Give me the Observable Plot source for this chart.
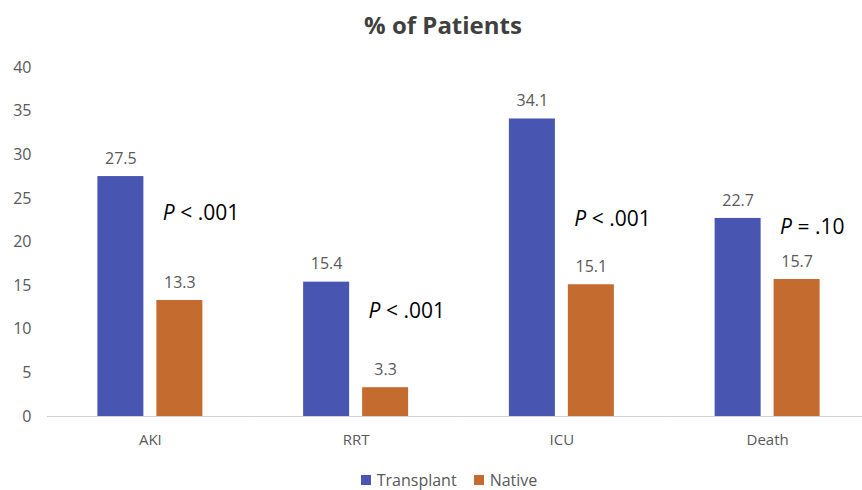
<!DOCTYPE html>
<html>
<head>
<meta charset="utf-8">
<script src="https://cdn.jsdelivr.net/npm/d3@7"></script>
<script src="https://cdn.jsdelivr.net/npm/@observablehq/plot@0.6"></script>
<style>
  html, body { margin: 0; padding: 0; background: #fff; }
  #chart { width: 862px; font-family: "Open Sans", sans-serif; }
  .title { height: 50px; line-height: 50px; text-align: center; font-weight: bold; font-size: 24px; color: #404040; padding-left: 24px; box-sizing: border-box; }
  .legend { height: 36px; display: flex; justify-content: center; align-items: center; gap: 17px; font-size: 16px; line-height: 19px; color: #595959; padding-left: 36px; padding-top: 16px; box-sizing: border-box; }
  .legend .item { display: flex; align-items: center; gap: 6px; }
  .legend .sw { width: 10px; height: 10px; display: inline-block; }
  svg { display: block; }
</style>
</head>
<body>
<div id="chart"></div>
<script>
const categories = ["AKI", "RRT", "ICU", "Death"];
const seriesNames = ["Transplant", "Native"];
const transplant = [27.5, 15.4, 34.1, 22.7];
const native = [13.3, 3.3, 15.1, 15.7];
const pLabels = ["P < .001", "P < .001", "P < .001", "P = .10"];
const pLabelY = [23.3, 12.1, 22.6, 21.7];
const yTicks = [0, 5, 10, 15, 20, 25, 30, 35, 40];
const colors = ["#4856B1", "#C46B30"];

const rows = [];
categories.forEach((c, i) => {
  rows.push({category: c, series: "Transplant", value: transplant[i]});
  rows.push({category: c, series: "Native", value: native[i]});
});
const notes = categories.map((c, i) => ({category: c, label: pLabels[i], y: pLabelY[i]}));

const root = document.getElementById("chart");
const title = document.createElement("div");
title.className = "title";
title.textContent = "% of Patients";
root.appendChild(title);

const plot = Plot.plot({
  width: 862,
  height: 404,
  marginTop: 17,
  marginBottom: 38,
  marginLeft: 47,
  marginRight: 0,
  style: {fontFamily: "'Open Sans', sans-serif", fontSize: "16px", color: "#595959", overflow: "visible"},
  fx: {domain: categories, range: [47, 870], paddingInner: 0, paddingOuter: 0, round: false, label: null},
  x: {domain: seriesNames, paddingInner: 0.22, paddingOuter: 0.854, round: false, axis: null},
  y: {domain: [0, 40], label: null},
  color: {domain: seriesNames, range: colors},
  marks: [
    Plot.axisY({ticks: yTicks, tickSize: 0, tickPadding: 16, label: null, fill: "#595959", fontSize: 16}),
    Plot.axisFx({anchor: "bottom", tickSize: 0, tickPadding: 18, label: null, fill: "#595959", fontSize: 15}),
    Plot.barY(rows, {fx: "category", x: "series", y: "value", fill: "series"}),
    Plot.ruleY([0], {stroke: "#d0d0d0", strokeWidth: 1}),
    Plot.text(rows, {fx: "category", x: "series", y: "value", text: d => d.value.toFixed(1), dy: -18, fill: "#595959", fontSize: 16}),
    Plot.text(notes, {fx: "category", x: () => "Native", y: "y", text: "label", textAnchor: "start", dx: -17, fill: "#000", fontSize: 21})
  ]
});
root.appendChild(plot);

// italicize the leading "P" in annotations
plot.querySelectorAll("text").forEach(t => {
  const s = t.textContent;
  if (/^P [<=]/.test(s) && t.children.length === 0) {
    t.textContent = "";
    const p = document.createElementNS("http://www.w3.org/2000/svg", "tspan");
    p.setAttribute("font-style", "italic");
    p.textContent = "P";
    t.appendChild(p);
    t.appendChild(document.createTextNode(s.slice(1)));
  }
});

const legend = document.createElement("div");
legend.className = "legend";
seriesNames.forEach((s, i) => {
  const item = document.createElement("span");
  item.className = "item";
  const sw = document.createElement("span");
  sw.className = "sw";
  sw.style.background = colors[i];
  item.appendChild(sw);
  item.appendChild(document.createTextNode(s));
  legend.appendChild(item);
});
root.appendChild(legend);
</script>
</body>
</html>
